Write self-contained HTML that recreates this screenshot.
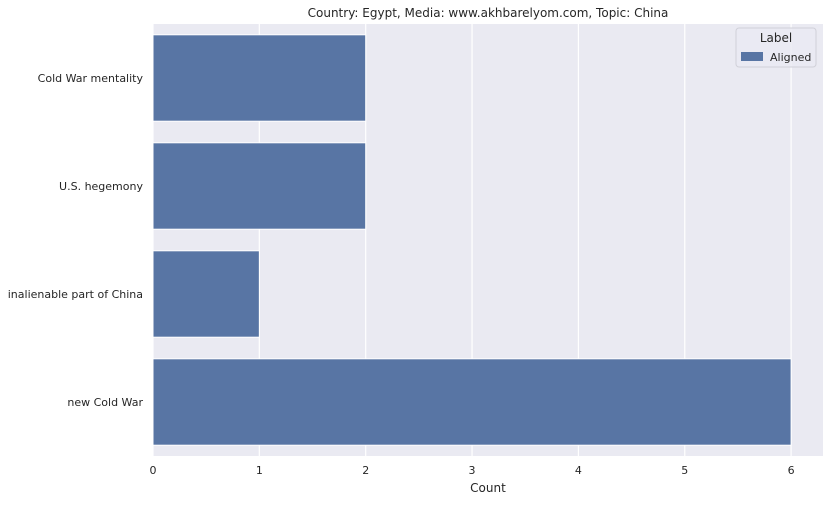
<!DOCTYPE html>
<html><head><meta charset="utf-8"><style>
body{margin:0;background:#fff;font-family:"Liberation Sans","DejaVu Sans",sans-serif;}
svg text{font-family:"DejaVu Sans","Liberation Sans",sans-serif;fill:#262626;}
</style></head><body>
<svg id="chart" width="829" height="501" xmlns="http://www.w3.org/2000/svg"></svg>
<script>
const categories=["Cold War mentality","U.S. hegemony","inalienable part of China","new Cold War"];
const counts=[2,2,1,6];
const xTicks=[0,1,2,3,4,5,6];
const NS="http://www.w3.org/2000/svg";
const svg=document.getElementById('chart');
const L=153,R=823,T=24,B=456,xmax=6.3;
const x=v=>L+(v/xmax)*(R-L);
const band=(B-T)/categories.length;
const y=i=>T+i*band;
function mk(t,a,txt){const e=document.createElementNS(NS,t);for(const k in a)e.setAttribute(k,a[k]);if(txt!==undefined)e.textContent=txt;svg.appendChild(e);return e;}
let bg=mk('rect',{x:L,y:T,width:R-L,height:B-T,fill:'#eaeaf2'});


xTicks.forEach(v=>{
 let g=mk('line',{x1:x(v),x2:x(v),y1:T,y2:B,stroke:'#fff','stroke-width':1.2});
 
 
 let t=mk('text',{x:x(v),y:B+18,'text-anchor':'middle','font-size':11},v);
 
 
});
categories.forEach((c,i)=>{
 let b=mk('rect',{x:x(0),y:y(i)+band*0.1,width:x(counts[i])-x(0),height:band*0.8,fill:'#5875a4',stroke:'#fff','stroke-width':1});
 
 
 let t=mk('text',{x:L-10,y:y(i)+band/2+4,'text-anchor':'end','font-size':11},c);
 
 
});
let xt=mk('text',{x:(L+R)/2,y:492,'text-anchor':'middle','font-size':12},'Count');


let tt=mk('text',{x:(L+R)/2,y:17,'text-anchor':'middle','font-size':12},'Country: Egypt, Media: www.akhbarelyom.com, Topic: China');


let lg=mk('rect',{x:736,y:28,width:80,height:39,fill:'#eaeaf2',stroke:'#d0d0d8',rx:3,'fill-opacity':0.8});


let lt=mk('text',{x:776,y:42,'text-anchor':'middle','font-size':12},'Label');


let lp=mk('rect',{x:741,y:52,width:22,height:9,fill:'#5875a4'});


let ll=mk('text',{x:770,y:61,'font-size':11},'Aligned');


</script>
</body></html>
